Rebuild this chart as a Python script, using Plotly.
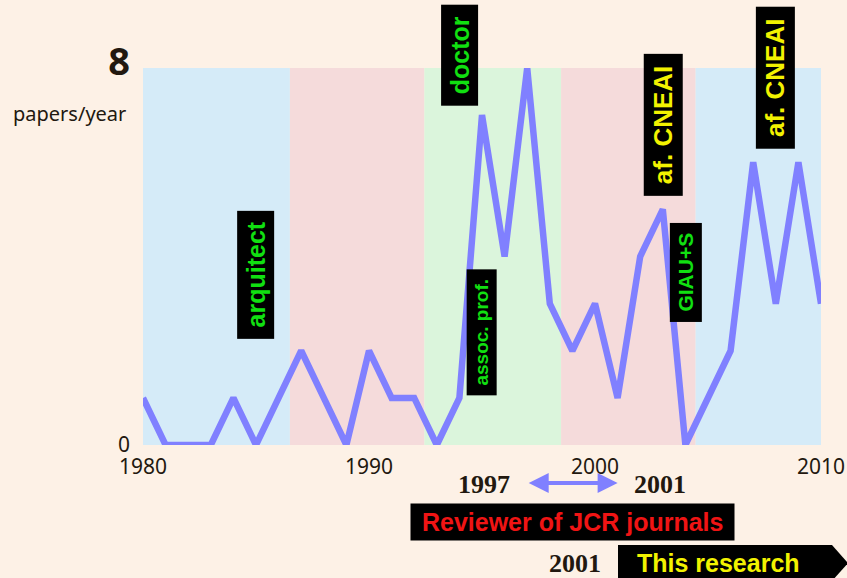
import plotly.graph_objects as go

# ---- data ----
years = list(range(1980, 2011))
papers = [1, 0, 0, 0, 1, 0, 1, 2, 1, 0, 2, 1, 1, 0, 1, 7, 4, 8, 3, 2, 3, 1, 4, 5, 0, 1, 2, 6, 3, 6, 3]

band_starts = [1980, 1986.5, 1992.45, 1998.5, 2004.45]
band_ends = [1986.5, 1992.45, 1998.5, 2004.45, 2010]
band_colors = ["#d5ebf8", "#f5dbdb", "#dbf5dc", "#f5dbdb", "#d5ebf8"]

x_tick_vals = [1980, 1990, 2000, 2010]
x_tick_text = ["1980", "1990", "2000", "2010"]
y_tick_vals = [0, 8]
y_tick_text = ["0", "<b><span style='font-size:38px'>8</span></b>"]
Y_MAX = 8

milestone_text = ["arquitect", "doctor", "assoc. prof.", "af. CNEAI", "GIAU+S", "af. CNEAI"]
milestone_year = [1985, 1994, 1995, 2003, 2004, 2008]
milestone_level = [3.6, 8.28, 2.38, 6.8, 3.67, 7.8]
milestone_color = ["#11e011", "#11e011", "#11e011", "#f2f200", "#11e011", "#f2f200"]
milestone_size = [25, 25, 19, 26, 21, 26]

reviewer_from, reviewer_to = 1997, 2001
research_from = 2001

BG = "#fdf1e6"
INK = "#22180f"
LINE = "#8080ff"

# pixel -> paper helpers for layout placement outside the plot
L, R, T, B = 143, 821, 68, 445
def px(x):
    return (x - L) / (R - L)
def py(y):
    return (B - y) / (B - T)

fig = go.Figure()
fig.add_trace(go.Scatter(x=years, y=papers, mode="lines",
                         line=dict(color=LINE, width=6.5),
                         cliponaxis=False, hoverinfo="skip", showlegend=False))

shapes = []
for x0, x1, c in zip(band_starts, band_ends, band_colors):
    shapes.append(dict(type="rect", xref="x", yref="y", x0=x0, x1=x1, y0=0, y1=Y_MAX,
                       fillcolor=c, line=dict(width=0), layer="below"))

# "This research" arrow box
path = "M {a},{b} L {c},{b} L {d},{e} L {c},{f} L {a},{f} Z".format(
    a=px(618), b=py(545), c=px(832), d=px(848), e=py(563), f=py(581))
shapes.append(dict(type="path", xref="paper", yref="paper", path=path,
                   fillcolor="black", line=dict(width=0), layer="above"))

annotations = []
for t, xv, yv, col, sz in zip(milestone_text, milestone_year, milestone_level, milestone_color, milestone_size):
    annotations.append(dict(x=xv, y=yv / Y_MAX, xref="x", yref="paper", text=" " + t + " ",
                            textangle=-90, showarrow=False, bgcolor="black",
                            borderpad=4, xanchor="center", yanchor="middle",
                            font=dict(family="Liberation Sans", size=sz, color=col, weight="bold")))

annotations.append(dict(x=px(128), y=py(113), xref="paper", yref="paper", text="papers/year",
                        showarrow=False, xanchor="right", yanchor="middle",
                        font=dict(family="Noto Sans", size=20, color=INK)))

serif_bold = dict(family="Liberation Serif", size=26, color=INK, weight="bold")
annotations.append(dict(x=px(484), y=py(485), xref="paper", yref="paper", text=str(reviewer_from),
                        showarrow=False, xanchor="center", yanchor="middle", font=serif_bold))
annotations.append(dict(x=px(660), y=py(485), xref="paper", yref="paper", text=str(reviewer_to),
                        showarrow=False, xanchor="center", yanchor="middle", font=serif_bold))
annotations.append(dict(x=reviewer_to, y=py(483), xref="x", yref="paper",
                        ax=reviewer_from, ay=0, axref="x", ayref="pixel",
                        text="", showarrow=True, arrowhead=2, arrowside="end+start",
                        arrowsize=1, arrowwidth=4, arrowcolor=LINE,
                        standoff=0, startstandoff=0))
annotations.append(dict(x=px(572.5), y=py(521.5), xref="paper", yref="paper",
                        text=" Reviewer of JCR journals ", showarrow=False, bgcolor="black",
                        borderpad=4, xanchor="center", yanchor="middle",
                        font=dict(family="Liberation Sans", size=25, color="#f01414", weight="bold")))
annotations.append(dict(x=px(575), y=py(563), xref="paper", yref="paper", text=str(research_from),
                        showarrow=False, xanchor="center", yanchor="middle", font=serif_bold))
annotations.append(dict(x=px(718), y=py(563), xref="paper", yref="paper", text="This research",
                        showarrow=False, xanchor="center", yanchor="middle",
                        font=dict(family="Liberation Sans", size=25, color="#f2f200", weight="bold")))

fig.update_layout(
    width=847, height=578, autosize=False,
    margin=dict(l=L, r=847 - R, t=T, b=578 - B, pad=0, autoexpand=False),
    paper_bgcolor=BG, plot_bgcolor="rgba(0,0,0,0)",
    shapes=shapes, annotations=annotations, showlegend=False,
    xaxis=dict(range=[1980, 2010], tickvals=x_tick_vals, ticktext=x_tick_text,
               showgrid=False, zeroline=False, showline=False, ticks="",
               ticklabelstandoff=7, automargin=False,
               tickfont=dict(family="Noto Sans", size=21, color=INK), fixedrange=True),
    yaxis=dict(range=[0, Y_MAX], tickvals=y_tick_vals, ticktext=y_tick_text,
               showgrid=False, zeroline=False, showline=False, ticks="",
               ticklabelstandoff=12, automargin=False,
               tickfont=dict(family="Noto Sans", size=21, color=INK), fixedrange=True),
)

fig.write_html("out.html", config={"displayModeBar": False, "responsive": False},
               post_script="document.body.style.margin='0';document.body.style.overflow='hidden';")
